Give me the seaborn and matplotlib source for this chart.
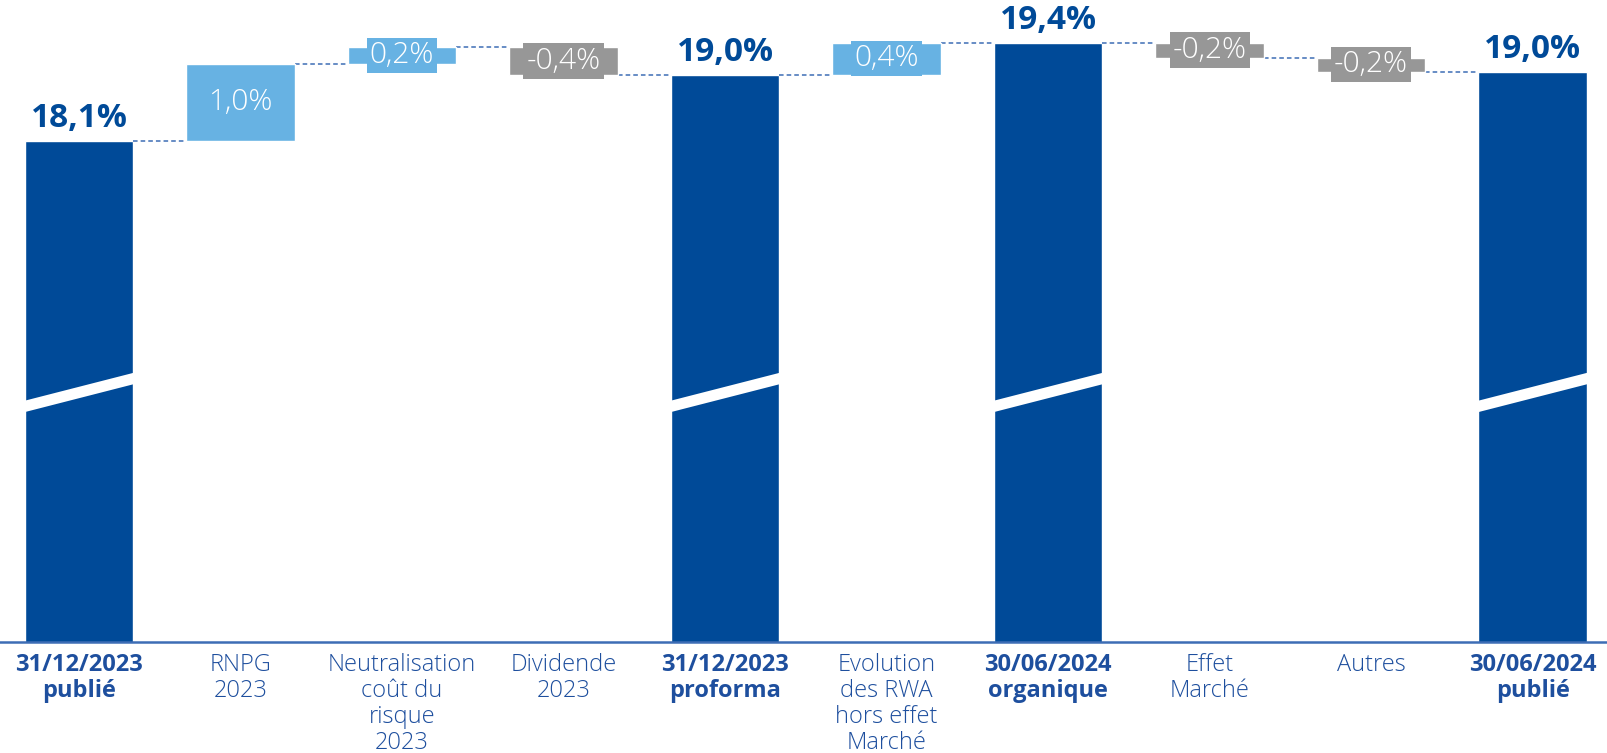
import numpy as np
import pandas as pd
import matplotlib
matplotlib.use('Agg')
import matplotlib.pyplot as plt
from matplotlib.patches import Polygon
import seaborn as sns

# ============================================================
# Data
# ============================================================
CATEGORIES = [
    '31/12/2023\npublié', 'RNPG\n2023', 'Neutralisation\ncoût du\nrisque\n2023',
    'Dividende\n2023', '31/12/2023\nproforma', 'Evolution\ndes RWA\nhors effet\nMarché',
    '30/06/2024\norganique', 'Effet\nMarché', 'Autres', '30/06/2024\npublié'
]
VALUES = [18.09, 1.01, 0.22, -0.37, 18.96, 0.42, 19.38, -0.20, -0.18, 19.00]
LABELS = ['18,1%', '1,0%', '0,2%', '-0,4%', '19,0%', '0,4%', '19,4%', '-0,2%', '-0,2%', '19,0%']
IS_TOTAL = [True, False, False, False, True, False, True, False, False, True]

# ============================================================
# Style
# ============================================================
DARK_BLUE = '#004A98'
LIGHT_BLUE = '#67B2E3'
GREY = '#979797'
LINE_BLUE = '#3D6DB5'
TEXT_BLUE = '#1E4F9E'
BAR_W = 0.67
Y_MIN, Y_MAX = 11.5, 19.94

sns.set_theme(style='white')
plt.rcParams['font.family'] = ['Open Sans', 'DejaVu Sans']

fig = plt.figure(figsize=(16.08, 7.53), dpi=100)
ax = fig.add_axes([0, 0.1474, 1, 0.8526])

# totals through seaborn
n = len(CATEGORIES)
totals = pd.DataFrame({
    'cat': [c for c, t in zip(CATEGORIES, IS_TOTAL) if t],
    'val': [v for v, t in zip(VALUES, IS_TOTAL) if t],
})
sns.barplot(data=totals, x='cat', y='val', order=CATEGORIES, color=DARK_BLUE,
            saturation=1, width=BAR_W, ax=ax)

# floating steps + running level
levels = []
level = 0.0
for i, (v, tot) in enumerate(zip(VALUES, IS_TOTAL)):
    if tot:
        level = v
    else:
        bottom = level if v >= 0 else level + v
        col = LIGHT_BLUE if v >= 0 else GREY
        ax.bar(i, abs(v), bottom=bottom, width=BAR_W, color=col, zorder=2)
        ax.text(i, bottom + abs(v) / 2, LABELS[i], ha='center', va='center',
                color='white', fontsize=21.5, fontweight='light', zorder=4,
                bbox=dict(boxstyle='square,pad=0.1', fc=col, ec='none'))
        level = level + v
    levels.append(level)

# total labels and axis break marks
for i, (v, tot) in enumerate(zip(VALUES, IS_TOTAL)):
    if not tot:
        continue
    ax.annotate(LABELS[i], (i, v), xytext=(0, 4), textcoords='offset points',
                ha='center', va='bottom', fontsize=24, fontweight='bold',
                color=DARK_BLUE)
    x0, x1 = i - BAR_W / 2 - 0.005, i + BAR_W / 2 + 0.005
    ax.add_patch(Polygon([(x0, 14.52), (x1, 14.89), (x1, 15.04), (x0, 14.67)],
                         closed=True, fc='white', ec='none', zorder=3))

# dashed connectors
for i in range(n - 1):
    ax.plot([i + BAR_W / 2, i + 1 - BAR_W / 2], [levels[i], levels[i]],
            color=LINE_BLUE, lw=1.1, linestyle=(0, (3, 2)), zorder=1)

ax.set_xlim(-0.489, 9.467)
ax.set_ylim(Y_MIN, Y_MAX)
ax.set_xlabel('')
ax.set_ylabel('')
ax.set_yticks([])
ax.set_xticks(range(n))
ax.set_xticklabels(CATEGORIES, color=TEXT_BLUE, fontsize=17, linespacing=1.1)
for lbl, tot in zip(ax.get_xticklabels(), IS_TOTAL):
    lbl.set_fontweight('bold' if tot else 'light')
ax.tick_params(axis='x', length=0, pad=8)
for side in ['top', 'left', 'right']:
    ax.spines[side].set_visible(False)
ax.spines['bottom'].set_color(LINE_BLUE)
ax.spines['bottom'].set_linewidth(1.8)
ax.spines['bottom'].set_zorder(5)

fig.savefig('out.png', dpi=100)
